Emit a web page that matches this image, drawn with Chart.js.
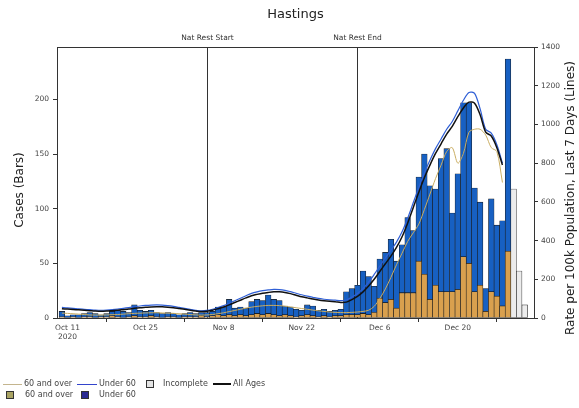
<!DOCTYPE html>
<html>
<head>
<meta charset="utf-8">
<script src="https://cdn.jsdelivr.net/npm/chart.js@4.4.1/dist/chart.umd.min.js"></script>
<style>
  html, body { margin: 0; padding: 0; background: #fff; }
  #wrap { position: relative; width: 579px; height: 408px; }
  #legend span { position: absolute; }
  #legend .tx { font: 8px "DejaVu Sans", sans-serif; color: #444; line-height: 8px; white-space: nowrap; }
  #legend .ln { height: 0; }
  #legend .sq { width: 6px; height: 6px; border: 1px solid #333; }
</style>
</head>
<body>
<div id="wrap">
  <canvas id="chart" width="579" height="408"></canvas>
  <div id="legend">
    <span class="ln" style="left:3px;top:384px;width:19px;border-top:1px solid #c4b58e"></span>
    <span class="tx" style="left:24px;top:380px">60 and over</span>
    <span class="ln" style="left:77px;top:384px;width:20px;border-top:1px solid #3344cc"></span>
    <span class="tx" style="left:99px;top:380px">Under 60</span>
    <span class="sq" style="left:146px;top:380px;background:#e4e4e4"></span>
    <span class="tx" style="left:163px;top:380px">Incomplete</span>
    <span class="ln" style="left:213px;top:383px;width:18px;border-top:2px solid #111"></span>
    <span class="tx" style="left:233px;top:380px">All Ages</span>
    <span class="sq" style="left:6px;top:391px;background:#aaa464"></span>
    <span class="tx" style="left:25px;top:391px">60 and over</span>
    <span class="sq" style="left:81px;top:391px;background:#2b2b92"></span>
    <span class="tx" style="left:99px;top:391px">Under 60</span>
  </div>
</div>
<script>
// index 0 = Oct 10 2020, one entry per day
const tickDays = [1, 15, 29, 43, 57, 71];
const tickLabels = [['Oct 11', '2020'], 'Oct 25', 'Nov 8', 'Nov 22', 'Dec 6', 'Dec 20'];
const caseTicks = [0, 50, 100, 150, 200];
const rateTicks = [0, 200, 400, 600, 800, 1000, 1200, 1400];

const eventDays = [26, 53];
const eventLabels = ['Nat Rest Start', 'Nat Rest End'];

// daily cases, Oct 10 .. Dec 29
const over60Cases = [1,0,1,0,1,1,0,1,1,2, 1,0,1,2,1,1,2,1,0,1, 1,0,1,1,1,2,1,2,3,2,
  3,2,3,2,3,4,3,4,3,2, 3,2,1,2,3,2,1,2,1,2, 2,3,3,3,4,3,5,18,14,17,
  9,23,23,23,52,40,17,30,24,24, 24,26,56,50,24,30,6,24,20,11, 61];
const under60Cases = [5,2,2,3,3,4,4,2,3,4, 6,6,4,10,6,5,5,4,4,4, 3,3,3,4,3,3,4,4,7,8,
  14,7,7,7,12,13,13,17,14,14, 8,8,7,5,9,9,6,6,5,5, 6,21,24,27,39,35,24,36,46,55,
  43,44,69,57,77,110,104,88,122,131, 72,106,141,147,95,76,21,85,65,78, 176];
// Dec 30 .. Jan 1
const incompleteStart = 81;
const incompleteCases = [118, 43, 12];

// rate per 100k, last 7 days, Oct 10 .. Dec 28
const allAgesRate = [48,46,44,42,40,38,36,35,36,38,40, 43,46,50,53,55,57,58,58,56,53,
  49,45,40,36,33,35,40,48,57,68, 80,92,104,115,122,128,132,135,135,132,
  126,118,110,104,98,93,89,86,84,80, 82,95,112,135,165,200,240,280,320,365,
  420,490,570,650,725,790,850,900,950,990, 1040,1085,1115,1110,1050,960,940,880,790];
const under60Rate = [55,52,50,47,45,43,41,40,41,43,46, 50,54,58,62,65,67,68,67,64,60,
  55,50,45,40,37,39,45,54,64,76, 89,102,115,127,135,141,145,148,147,143,
  136,128,120,113,107,101,97,94,92,90, 93,108,127,152,185,225,268,310,350,392,
  445,515,595,675,750,815,875,925,975,1015, 1070,1125,1165,1160,1080,975,955,895,800];
const over60Rate = [25,24,22,20,18,16,15,15,16,17,18, 20,22,24,25,26,27,27,26,25,24,
  22,20,18,16,15,16,18,22,27,33, 39,45,51,56,60,63,65,65,64,61,
  57,53,49,45,41,37,34,31,29,28, 28,29,31,34,40,60,100,150,210,275,
  335,395,440,485,560,640,720,790,860,880, 800,850,960,975,975,945,880,860,700];

const pts = (arr, start) => arr.map((v, i) => ({x: i + (start || 0), y: v}));

const FONT = '"DejaVu Sans", sans-serif';

const extras = {
  id: 'extras',
  beforeDatasetsDraw(chart) {
    const {ctx, chartArea: a, scales: {x}} = chart;
    ctx.save();
    ctx.strokeStyle = '#333';
    ctx.lineWidth = 1;
    ctx.fillStyle = '#333';
    ctx.font = '7.5px ' + FONT;
    ctx.textAlign = 'center';
    ctx.textBaseline = 'middle';
    eventDays.forEach((d, i) => {
      const px = Math.round(x.getPixelForValue(d)) + 0.5;
      ctx.beginPath(); ctx.moveTo(px, a.top); ctx.lineTo(px, a.bottom); ctx.stroke();
      ctx.fillText(eventLabels[i], px, a.top - 9);
    });
    ctx.restore();
  },
  afterDraw(chart) {
    const {ctx, chartArea: a} = chart;
    ctx.save();
    ctx.strokeStyle = '#333';
    ctx.lineWidth = 1;
    ctx.strokeRect(Math.round(a.left) + 0.5, Math.round(a.top) + 0.5, Math.round(a.width), Math.round(a.height));
    ctx.fillStyle = '#222';
    ctx.font = '12px ' + FONT;
    ctx.textAlign = 'center';
    ctx.textBaseline = 'middle';
    ctx.translate(20, 190); ctx.rotate(-Math.PI / 2);
    ctx.fillText('Cases (Bars)', 0, 0);
    ctx.restore();
    ctx.save();
    ctx.fillStyle = '#222';
    ctx.font = '12px ' + FONT;
    ctx.textAlign = 'center';
    ctx.textBaseline = 'middle';
    ctx.translate(571, 198); ctx.rotate(-Math.PI / 2);
    ctx.fillText('Rate per 100k Population, Last 7 Days (Lines)', 0, 0);
    ctx.restore();
  }
};

const barStyle = {borderColor: '#1a1a1a', borderWidth: 0.6, borderSkipped: false,
  barPercentage: 1, categoryPercentage: 1, yAxisID: 'y', stack: 'cases'};

const tickFont = {family: FONT, size: 7.5};
const axisGrid = {drawOnChartArea: false, drawTicks: true, tickLength: 4, color: '#333'};

new Chart(document.getElementById('chart'), {
  type: 'bar',
  data: {
    datasets: [
      {type: 'line', label: 'All Ages', data: pts(allAgesRate), yAxisID: 'y1',
        borderColor: '#111', borderWidth: 1.5, pointRadius: 0, tension: 0.3},
      {type: 'line', label: 'Under 60', data: pts(under60Rate), yAxisID: 'y1',
        borderColor: '#2f5fd6', borderWidth: 1.2, pointRadius: 0, tension: 0.3},
      {type: 'line', label: '60 and over', data: pts(over60Rate), yAxisID: 'y1',
        borderColor: '#c9ad62', borderWidth: 1, pointRadius: 0, tension: 0.3},
      {label: '60 and over', data: pts(over60Cases), backgroundColor: '#d9a04e', ...barStyle},
      {label: 'Under 60', data: pts(under60Cases), backgroundColor: '#1760c2', ...barStyle},
      {label: 'Incomplete', data: pts(incompleteCases, incompleteStart), backgroundColor: '#ececec', ...barStyle}
    ]
  },
  options: {
    responsive: false,
    animation: false,
    layout: {padding: {left: 0, right: 0, top: 0, bottom: 50}},
    plugins: {
      legend: {display: false},
      tooltip: {enabled: false},
      title: {display: true, text: 'Hastings', fullSize: false, color: '#222',
        font: {family: FONT, size: 13, weight: 'normal'}, padding: {top: 7, bottom: 24.4}}
    },
    scales: {
      x: {
        type: 'linear', min: -0.88, max: 84.66, offset: false,
        afterBuildTicks: s => { s.ticks = tickDays.map(v => ({value: v})); },
        afterFit: s => { s.height = 40; },
        ticks: {callback: (v, i) => tickLabels[i], autoSkip: false, maxRotation: 0,
          color: '#444', font: tickFont, padding: 2},
        grid: axisGrid,
        border: {color: '#333'}
      },
      y: {
        position: 'left', stacked: true, min: 0, max: 248,
        afterBuildTicks: s => { s.ticks = caseTicks.map(v => ({value: v})); },
        afterFit: s => { s.width = 57; },
        ticks: {callback: v => String(v), color: '#444', font: tickFont, padding: 4},
        grid: axisGrid,
        border: {color: '#333'}
      },
      y1: {
        position: 'right', min: 0, max: 1400,
        afterBuildTicks: s => { s.ticks = rateTicks.map(v => ({value: v})); },
        afterFit: s => { s.width = 45; },
        ticks: {callback: v => String(v), color: '#444', font: tickFont, padding: 3},
        grid: axisGrid,
        border: {color: '#333'}
      }
    }
  },
  plugins: [extras]
});
</script>
</body>
</html>
